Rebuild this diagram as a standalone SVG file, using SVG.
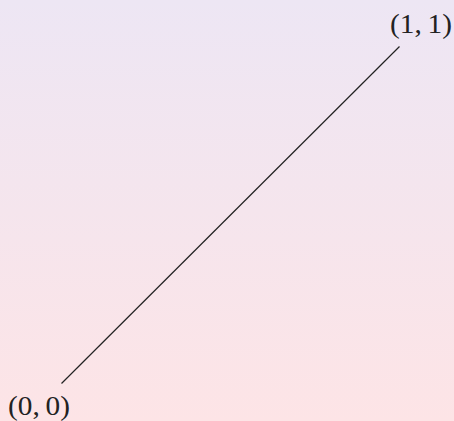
<svg xmlns="http://www.w3.org/2000/svg" width="454" height="421" viewBox="0 0 454 421">
<defs>
<linearGradient id="bg" x1="0" y1="0" x2="0" y2="1">
<stop offset="0" stop-color="#ede6f4"/>
<stop offset="1" stop-color="#fde4e6"/>
</linearGradient>
<style>
.lbl{font-family:"Liberation Serif","DejaVu Serif",serif;font-size:28px;fill:#222}
.edge{stroke:#222;stroke-width:1.2;fill:none}
</style>
</defs>
<rect width="454" height="421" fill="url(#bg)"/>
<g id="connectors">
<line class="edge" x1="61.5" y1="383.5" x2="399.5" y2="46.5"/>
</g>
<g id="origin">
<text class="lbl" x="8" y="415" textLength="62" lengthAdjust="spacingAndGlyphs">(0,&#8201;0)</text>
</g>
<g id="unit">
<text class="lbl" x="390" y="33" textLength="62" lengthAdjust="spacingAndGlyphs">(1,&#8201;1)</text>
</g>
</svg>
